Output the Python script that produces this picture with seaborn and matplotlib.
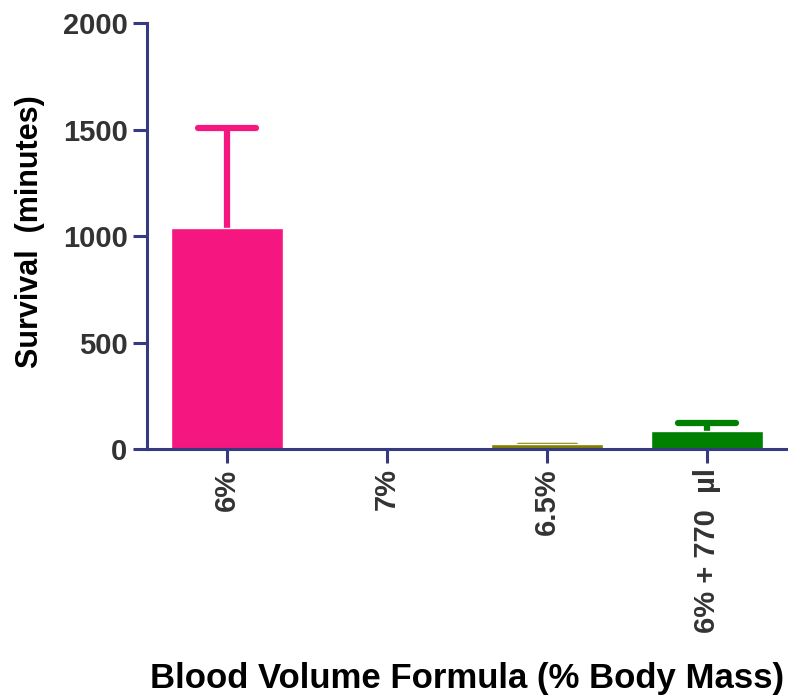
import matplotlib
matplotlib.use("Agg")
import matplotlib.pyplot as plt
import seaborn as sns
import pandas as pd
import numpy as np

# Survival by blood volume formula (mean with upper error)
categories = ["6%", "7%", "6.5%", "6% + 770  \u00b5l"]
survival = [1037, 0, 22, 86]
upper_err = [470, 0, 3, 36]
bar_colors = ["#F5177F", "#808000", "#808000", "#008000"]

sns.set_theme(style="white")
plt.rcParams["font.family"] = ["Liberation Sans", "DejaVu Sans"]
plt.rcParams["font.weight"] = "bold"

axis_color = "#363A80"
text_color = "#333333"

df = pd.DataFrame({"formula": categories, "survival": survival})

fig = plt.figure(figsize=(7.88, 6.98), dpi=100)
ax = fig.add_axes([0.1865, 0.3567, 0.8122, 0.6103])

sns.barplot(data=df, x="formula", y="survival", hue="formula",
            palette=bar_colors, legend=False, errorbar=None,
            width=0.7, saturation=1, ax=ax, zorder=2)

# upper-only error bars: stem from bar top plus a rounded cap
xs = np.arange(len(categories))
cap_half = 0.18
for x, y, e, c in zip(xs, survival, upper_err, bar_colors):
    if e > 0:
        ax.plot([x, x], [y, y + e], color=c, lw=4.5,
                solid_capstyle="butt", zorder=1)
        ax.plot([x - cap_half, x + cap_half], [y + e, y + e], color=c,
                lw=4.5 if e > 10 else 2.5, solid_capstyle="round", zorder=1)

ax.set_xlim(-0.5, 3.5)
ax.set_ylim(0, 2000)
ax.set_yticks([0, 500, 1000, 1500, 2000])

for side in ["top", "right"]:
    ax.spines[side].set_visible(False)
for side in ["left", "bottom"]:
    ax.spines[side].set_color(axis_color)
    ax.spines[side].set_linewidth(2.2)
    ax.spines[side].set_zorder(3)

ax.tick_params(axis="both", which="major", direction="out", length=10,
               width=2.2, color=axis_color, labelsize=21,
               labelcolor=text_color, left=True, bottom=True, pad=4)
ax.set_xticks(xs)
ax.set_xticklabels(categories, rotation=90, fontweight="bold")
for lbl in ax.get_yticklabels():
    lbl.set_fontweight("bold")

ax.set_ylabel("Survival  (minutes)", fontsize=22, fontweight="bold",
              color="black")
ax.yaxis.set_label_coords(-0.16, 0.51)
ax.set_xlabel("Blood Volume Formula (% Body Mass)", fontsize=25,
              fontweight="bold", color="black")
ax.xaxis.set_label_coords(0.5, -0.5)
ax.grid(False)

fig.savefig("out.png", dpi=100)
